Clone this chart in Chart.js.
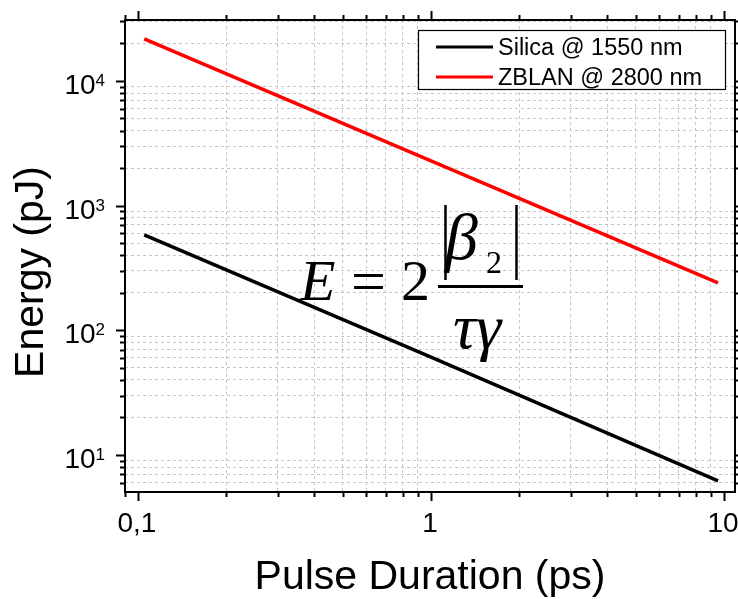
<!DOCTYPE html>
<html><head><meta charset="utf-8">
<script src="https://cdn.jsdelivr.net/npm/chart.js@4.4.1/dist/chart.umd.min.js"></script>
<style>html,body{margin:0;padding:0;background:#fff;overflow:hidden;} #wrap{width:738px;height:599px;}</style>
</head><body><div id="wrap"><canvas id="c" width="738" height="599"></canvas></div>
<script>
// ---- data ----
const pulseDuration = [0.105, 1, 9.54];          // ps
const silicaEnergy  = [582, 61, 6.2];            // pJ
const zblanEnergy   = [21700, 2280, 240];        // pJ
const seriesLabels  = ['Silica @ 1550 nm', 'ZBLAN @ 2800 nm'];
const seriesColors  = ['#000000', '#ff0000'];
const xTickValues = [0.09,0.1,0.2,0.3,0.4,0.5,0.6,0.7,0.8,0.9,1,2,3,4,5,6,7,8,9,10];
const yTickValues = [6,7,8,9,10,20,30,40,50,60,70,80,90,100,200,300,400,500,600,700,800,900,
                     1000,2000,3000,4000,5000,6000,7000,8000,9000,10000,20000,30000];
const xTickLabels = [[0.1,'0,1'],[1,'1'],[10,'10']];
const yTickLabels = [[10,'10','1'],[100,'10','2'],[1000,'10','3'],[10000,'10','4']];
const xTitle = 'Pulse Duration (ps)';
const yTitle = 'Energy (pJ)';

const SANS = '"Liberation Sans", Arial, sans-serif';
const SERIF = '"Liberation Serif", "Times New Roman", serif';
function isMajor(v){ const l = Math.log10(v); return Math.abs(l - Math.round(l)) < 1e-9; }

const decor = {
  id: 'decor',
  afterDraw(chart) {
    const ctx = chart.ctx, a = chart.chartArea;
    const xs = chart.scales.x, ys = chart.scales.y;
    ctx.save();
    ctx.strokeStyle = '#000'; ctx.fillStyle = '#000';
    // frame
    ctx.lineWidth = 2;
    ctx.strokeRect(a.left, a.top, a.right - a.left, a.bottom - a.top);
    // ticks
    ctx.lineWidth = 2;
    ctx.beginPath();
    xTickValues.forEach(v => {
      const p = Math.round(xs.getPixelForValue(v)) + 0.5;
      const len = isMajor(v) ? 9 : 5;
      ctx.moveTo(p, a.bottom); ctx.lineTo(p, a.bottom + len);
      ctx.moveTo(p, a.top); ctx.lineTo(p, a.top - len);
    });
    yTickValues.forEach(v => {
      const p = Math.round(ys.getPixelForValue(v)) + 0.5;
      const len = isMajor(v) ? 9 : 5;
      ctx.moveTo(a.left, p); ctx.lineTo(a.left - len, p);
      ctx.moveTo(a.right, p); ctx.lineTo(a.right + len, p);
    });
    ctx.stroke();
    // x tick labels
    ctx.font = '28px ' + SANS;
    ctx.textAlign = 'center'; ctx.textBaseline = 'alphabetic';
    xTickLabels.forEach(([v, t]) => {
      ctx.fillText(t, xs.getPixelForValue(v) - 1, a.bottom + 40);
    });
    // y tick labels (10^n)
    yTickLabels.forEach(([v, base, ex]) => {
      const p = ys.getPixelForValue(v);
      ctx.font = '17px ' + SANS;
      const ew = ctx.measureText(ex).width;
      ctx.textAlign = 'right';
      ctx.fillText(ex, 105, p + 5);
      ctx.font = '28px ' + SANS;
      ctx.fillText(base, 105 - ew, p + 13);
    });
    // axis titles
    ctx.font = '41px ' + SANS;
    ctx.textAlign = 'center'; ctx.textBaseline = 'alphabetic';
    ctx.fillText(xTitle, (a.left + a.right) / 2, 589);
    ctx.save();
    ctx.translate(43, 272);
    ctx.rotate(-Math.PI / 2);
    ctx.fillText(yTitle, 0, 0);
    ctx.restore();
    // legend
    ctx.fillStyle = '#fff';
    ctx.fillRect(418, 30, 308, 59);
    ctx.lineWidth = 1.2; ctx.strokeStyle = '#000';
    ctx.strokeRect(418.5, 30.5, 307, 59);
    const rows = [47, 77], base = [55, 85];
    chart.data.datasets.forEach((ds, i) => {
      ctx.strokeStyle = ds.borderColor; ctx.lineWidth = 3;
      ctx.beginPath(); ctx.moveTo(436, rows[i]); ctx.lineTo(493, rows[i]); ctx.stroke();
      ctx.fillStyle = '#000'; ctx.font = '23.5px ' + SANS; ctx.textAlign = 'left';
      ctx.fillText(ds.label, 498, base[i]);
    });
    // formula  E = 2 |β2| / (τγ)
    ctx.fillStyle = '#000'; ctx.strokeStyle = '#000';
    ctx.textAlign = 'left'; ctx.textBaseline = 'alphabetic';
    ctx.font = 'italic 58px ' + SERIF;
    ctx.fillText('E', 300, 300);
    ctx.font = '62px ' + SERIF;
    ctx.fillText('=', 351, 302);
    ctx.font = '58px ' + SERIF;
    ctx.fillText('2', 401, 300);
    ctx.lineWidth = 2.5;
    ctx.beginPath();
    ctx.moveTo(445.5, 205); ctx.lineTo(445.5, 280);
    ctx.moveTo(516.5, 205); ctx.lineTo(516.5, 280);
    ctx.stroke();
    ctx.font = 'italic 66px ' + SERIF;
    ctx.fillText('\u03B2', 445, 259);
    ctx.font = '32px ' + SERIF;
    ctx.fillText('2', 486, 273);
    ctx.lineWidth = 3;
    ctx.beginPath(); ctx.moveTo(438, 286.5); ctx.lineTo(523, 286.5); ctx.stroke();
    ctx.font = 'italic 64px ' + SERIF;
    ctx.fillText('\u03C4\u03B3', 453, 348);
    ctx.restore();
  }
};

const gridCfg = () => ({
  drawTicks: false,
  lineWidth: 1,
  color: c => (c.tick && isMajor(c.tick.value)) ? 'rgba(0,0,0,0)' : '#c6c6c6'
});

new Chart(document.getElementById('c'), {
  type: 'line',
  data: {
    datasets: [
      { label: seriesLabels[0], data: pulseDuration.map((x, i) => ({x, y: silicaEnergy[i]})),
        borderColor: seriesColors[0], borderWidth: 3.5, pointRadius: 0, tension: 0, fill: false },
      { label: seriesLabels[1], data: pulseDuration.map((x, i) => ({x, y: zblanEnergy[i]})),
        borderColor: seriesColors[1], borderWidth: 3.5, pointRadius: 0, tension: 0, fill: false }
    ]
  },
  options: {
    responsive: false, animation: false, devicePixelRatio: 1,
    layout: { padding: { left: 125, top: 20, right: 3, bottom: 107 } },
    plugins: { legend: { display: false }, tooltip: { enabled: false } },
    scales: {
      x: { type: 'logarithmic', min: 0.0903, max: 10.9,
           ticks: { display: false }, grid: gridCfg(),
           border: { display: false, dash: [3, 3] },
           afterBuildTicks: s => { s.ticks = xTickValues.map(v => ({ value: v })); },
           afterFit: s => { s.height = 0; } },
      y: { type: 'logarithmic', min: 5.05, max: 30800,
           ticks: { display: false }, grid: gridCfg(),
           border: { display: false, dash: [3, 3] },
           afterBuildTicks: s => { s.ticks = yTickValues.map(v => ({ value: v })); },
           afterFit: s => { s.width = 0; } }
    }
  },
  plugins: [decor]
});
</script>
</body></html>
